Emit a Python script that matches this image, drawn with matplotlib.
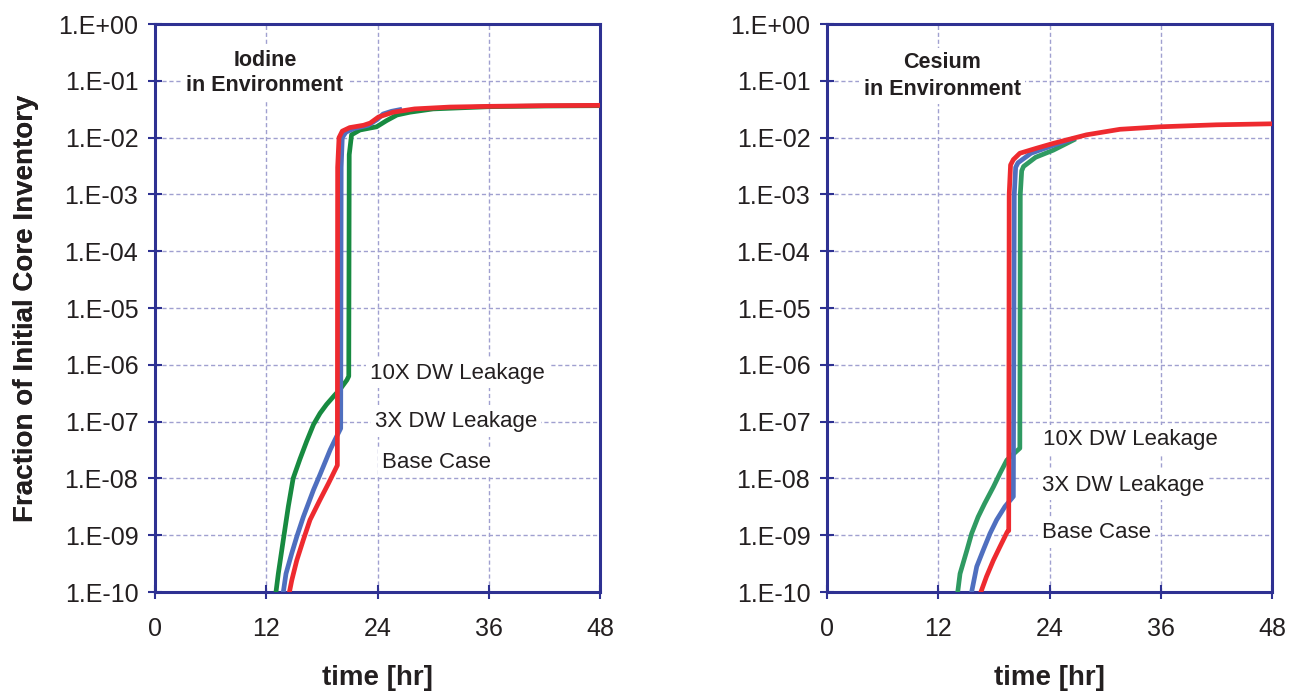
import math
import matplotlib
matplotlib.use("Agg")
import matplotlib.pyplot as plt
from matplotlib.ticker import FixedLocator, FuncFormatter

plt.rcParams['font.family'] = ['Liberation Sans', 'DejaVu Sans']

# ---------------- Data: Iodine in Environment ----------------
iod_10x_t = [13.05, 13.3, 13.84, 14.38, 14.9, 15.64, 16.36, 17.1, 17.8, 18.5, 19.4, 19.96, 20.7, 20.9,
             20.95, 21.2, 22.1, 23.9, 25.0, 26.1, 27.5, 30.0, 36.0, 42.0, 48.0]
iod_10x_v = [1e-10, 2.1e-10, 8.3e-10, 3.2e-9, 1.0e-8, 2.2e-8, 4.5e-8, 8.9e-8, 1.4e-7, 2.0e-7, 2.95e-7, 3.7e-7, 5.4e-7, 6.3e-7,
             5e-3, 1.12e-2, 1.36e-2, 1.55e-2, 2.0e-2, 2.5e-2, 2.8e-2, 3.2e-2, 3.5e-2, 3.6e-2, 3.65e-2]

iod_3x_t = [13.84, 14.13, 14.75, 15.3, 16.0, 17.1, 17.8, 18.9, 19.42, 20.03,
            20.08, 20.2, 20.6, 21.5, 23.0, 24.0, 24.6, 25.5, 26.4]
iod_3x_v = [1e-10, 2.1e-10, 4.8e-10, 9.5e-10, 2.1e-9, 6.3e-9, 1.17e-8, 3.2e-8, 4.8e-8, 7.6e-8,
            3e-3, 1.0e-2, 1.25e-2, 1.45e-2, 1.65e-2, 2.1e-2, 2.6e-2, 2.9e-2, 3.1e-2]

iod_base_t = [14.5, 14.75, 15.29, 16.0, 16.72, 17.8, 18.7, 19.67,
              19.7, 19.85, 20.2, 21.0, 22.5, 23.2, 24.1, 25.7, 28.0, 31.8, 36.0, 42.0, 48.0]
iod_base_v = [1e-10, 1.6e-10, 3.6e-10, 8.3e-10, 1.86e-9, 4.2e-9, 8.1e-9, 1.7e-8,
              3e-3, 1.0e-2, 1.3e-2, 1.5e-2, 1.65e-2, 1.8e-2, 2.3e-2, 2.8e-2, 3.2e-2, 3.45e-2, 3.55e-2, 3.65e-2, 3.7e-2]

# ---------------- Data: Cesium in Environment ----------------
ces_10x_t = [14.1, 14.35, 15.1, 15.6, 16.3, 17.0, 17.95, 18.66, 19.4, 20.8,
             20.85, 21.0, 21.2, 22.5, 24.4, 26.6]
ces_10x_v = [1e-10, 2.1e-10, 5.5e-10, 1.07e-9, 2.1e-9, 3.6e-9, 7.1e-9, 1.23e-8, 2.1e-8, 3.4e-8,
             1e-3, 2.6e-3, 3.1e-3, 4.5e-3, 6.0e-3, 9.1e-3]

ces_3x_t = [15.6, 16.15, 16.86, 17.58, 18.3, 19.2, 20.1,
            20.2, 20.35, 20.6, 22.0, 24.4, 26.5]
ces_3x_v = [1e-10, 2.8e-10, 5.5e-10, 1.07e-9, 1.86e-9, 3.2e-9, 4.8e-9,
            1e-3, 3.0e-3, 3.6e-3, 5.3e-3, 7.3e-3, 9.5e-3]

ces_base_t = [16.6, 17.2, 17.94, 18.66, 19.45, 19.6,
              19.65, 19.8, 20.1, 20.8, 22.6, 24.4, 28.0, 31.6, 36.0, 42.0, 48.0]
ces_base_v = [1e-10, 1.86e-10, 3.6e-10, 6.3e-10, 1.15e-9, 1.2e-9,
              1e-3, 3.3e-3, 4.1e-3, 5.3e-3, 6.5e-3, 7.9e-3, 1.12e-2, 1.4e-2, 1.55e-2, 1.68e-2, 1.75e-2]

x_ticks = [0, 12, 24, 36, 48]
y_exponents = [0, -1, -2, -3, -4, -5, -6, -7, -8, -9, -10]
series_labels = ["10X DW Leakage", "3X DW Leakage", "Base Case"]
panel_titles = ["Iodine\nin Environment", "Cesium\nin Environment"]
xlabel = "time [hr]"
ylabel = "Fraction of Initial Core Inventory"

NAVY = '#2e3192'
GRID = '#a0a0d0'
TXT = '#231f20'
RED = '#ee2a2f'
BLUE = '#4f6fbf'
GREEN_L = '#178a40'
GREEN_R = '#2f9a62'

fig = plt.figure(figsize=(12.99, 6.92), dpi=100)
W, H = 1299, 692


def make_ax(x0):
    ax = fig.add_axes([x0 / W, 1 - 592 / H, 445 / W, 568 / H])
    ax.set_yscale('log')
    ax.set_xlim(0, 48)
    ax.set_ylim(1e-10, 1)
    ax.xaxis.set_major_locator(FixedLocator(x_ticks))
    ax.yaxis.set_major_locator(FixedLocator([10.0 ** e for e in y_exponents]))
    ax.yaxis.set_minor_locator(FixedLocator([]))
    ax.yaxis.set_major_formatter(FuncFormatter(lambda v, p: "1.E{:+03d}".format(int(round(math.log10(v))))))
    ax.grid(True, which='major', color=GRID, linestyle=(0, (3, 2)), linewidth=1.0)
    ax.set_axisbelow(True)
    for s in ax.spines.values():
        s.set_color(NAVY)
        s.set_linewidth(2.2)
    ax.tick_params(axis='both', which='major', direction='inout', length=10, width=1.5,
                   color=NAVY, labelsize=18, labelcolor=TXT, pad=7)
    ax.tick_params(axis='x', pad=13)
    ax.set_xlabel(xlabel, fontsize=20, fontweight='bold', color=TXT)
    ax.xaxis.set_label_coords(0.5, -(678 - 592) / 568)
    ax.xaxis.label.set_va('center')
    ax.set_ylabel(ylabel, fontsize=20, fontweight='bold', color=TXT)
    ax.yaxis.set_label_coords(-(x0 - 26) / 445, 0.5)
    ax.yaxis.label.set_va('center')
    return ax


axL = make_ax(155)
axR = make_ax(827)

lw = 3.4
axL.plot(iod_10x_t, iod_10x_v, color=GREEN_L, lw=lw, solid_joinstyle='round', zorder=3)
axL.plot(iod_3x_t, iod_3x_v, color=BLUE, lw=lw, solid_joinstyle='round', zorder=4)
axL.plot(iod_base_t, iod_base_v, color=RED, lw=lw, solid_joinstyle='round', zorder=5)

axR.plot(ces_10x_t, ces_10x_v, color=GREEN_R, lw=lw, solid_joinstyle='round', zorder=3)
axR.plot(ces_3x_t, ces_3x_v, color=BLUE, lw=lw, solid_joinstyle='round', zorder=4)
axR.plot(ces_base_t, ces_base_v, color=RED, lw=lw, solid_joinstyle='round', zorder=5)

box = dict(facecolor='white', edgecolor='none', pad=3)


def fig_text(x, y, s, **kw):
    fig.text(x / W, 1 - y / H, s, bbox=box, color=TXT, **kw)


fig_text(265, 73, panel_titles[0], fontsize=15.5, fontweight='bold', ha='center', va='center',
         linespacing=1.3)
fig_text(942, 76, panel_titles[1], fontsize=15.5, fontweight='bold', ha='center', va='center',
         linespacing=1.35)

for (x, y), s in zip([(370, 373), (375, 422), (382, 462)], series_labels):
    fig_text(x, y, s, fontsize=16, ha='left', va='center')
for (x, y), s in zip([(1043, 440), (1042, 485), (1042, 533)], series_labels):
    fig_text(x, y, s, fontsize=16, ha='left', va='center')

fig.savefig('out.png', dpi=100)
